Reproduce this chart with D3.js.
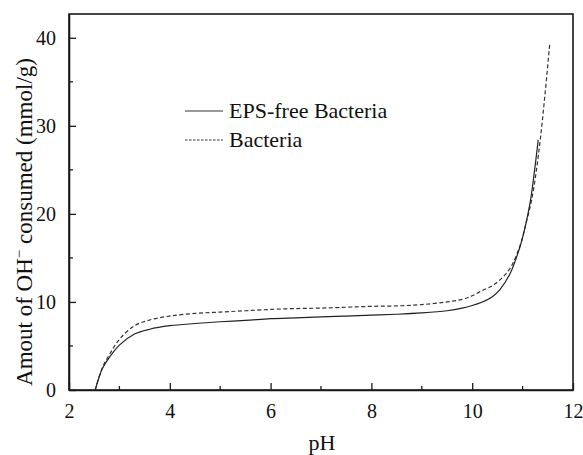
<!DOCTYPE html>
<html>
<head>
<meta charset="utf-8">
<script src="https://cdn.jsdelivr.net/npm/d3@7/dist/d3.min.js"></script>
<style>
  html, body { margin: 0; padding: 0; background: #fff; }
  svg { display: block; }
  svg text { font-family: "Liberation Serif", "Times New Roman", "DejaVu Serif", serif !important; }
</style>
</head>
<body>
<svg id="chart" width="583" height="455"></svg>
<script>
// Titration curves: OH- consumed vs pH
const epsFreePH  = [2.52, 2.66, 2.8, 3.0, 3.3, 3.6, 4.0, 4.5, 5.0, 5.5, 6.0, 6.5, 7.0, 7.5, 8.0, 8.5, 9.0, 9.5, 9.8, 10.0, 10.2, 10.4, 10.55, 10.75, 10.95, 11.05, 11.15, 11.23, 11.31];
const epsFreeOH  = [0, 2.4, 3.7, 5.1, 6.35, 6.9, 7.3, 7.55, 7.75, 7.9, 8.1, 8.2, 8.3, 8.4, 8.5, 8.6, 8.75, 9.0, 9.3, 9.6, 10.0, 10.6, 11.4, 13.2, 16.3, 18.5, 21.3, 24.6, 28.4];
const bacteriaPH = [2.52, 2.66, 2.8, 3.0, 3.3, 3.6, 4.0, 4.5, 5.0, 5.5, 6.0, 6.5, 7.0, 7.5, 8.0, 8.5, 9.0, 9.5, 9.8, 10.0, 10.2, 10.4, 10.55, 10.75, 10.95, 11.08, 11.18, 11.27, 11.35, 11.44, 11.54];
const bacteriaOH = [0, 2.5, 4.0, 5.75, 7.3, 7.95, 8.4, 8.7, 8.85, 9.0, 9.15, 9.25, 9.3, 9.4, 9.5, 9.55, 9.7, 10.0, 10.3, 10.7, 11.3, 11.85, 12.5, 13.8, 16.4, 19.2, 21.6, 24.8, 28.4, 33.3, 39.4];

const xTicks = [2, 4, 6, 8, 10, 12];
const yTicks = [0, 10, 20, 30, 40];
const seriesNames = ["EPS-free Bacteria", "Bacteria"];

const svg = d3.select("#chart");
const margin = { left: 69, top: 14, right: 10, bottom: 65 };
const W = 583, H = 455;
const iw = W - margin.left - margin.right;
const ih = H - margin.top - margin.bottom;

const x = d3.scaleLinear().domain([2, 12]).range([0, iw]);
const y = d3.scaleLinear().domain([0, 42.7]).range([ih, 0]);

const g = svg.append("g").attr("transform", `translate(${margin.left},${margin.top})`);

// frame
g.append("rect")
  .attr("x", 0).attr("y", 0).attr("width", iw).attr("height", ih)
  .attr("fill", "none").attr("stroke", "#1a1a1a").attr("stroke-width", 1.6);

// x axis: inward ticks, minor at odd values
const xAxis = d3.axisBottom(x).tickValues(xTicks).tickSizeInner(-7).tickSizeOuter(0).tickPadding(14)
  .tickFormat(d3.format("d"));
const gx = g.append("g").attr("transform", `translate(0,${ih})`).call(xAxis);
gx.select(".domain").attr("stroke", "#1a1a1a").attr("stroke-width", 1.6);
gx.selectAll(".tick line").attr("stroke", "#1a1a1a").attr("stroke-width", 1.3);
gx.selectAll(".tick text").attr("font-size", 20).attr("fill", "#111");
g.append("g").attr("transform", `translate(0,${ih})`)
  .selectAll("line").data(d3.range(3, 12, 2)).join("line")
  .attr("x1", d => x(d)).attr("x2", d => x(d)).attr("y1", 0).attr("y2", -4)
  .attr("stroke", "#1a1a1a").attr("stroke-width", 1.3);

// y axis
const yAxis = d3.axisLeft(y).tickValues(yTicks).tickSizeInner(-7).tickSizeOuter(0).tickPadding(13)
  .tickFormat(d3.format("d"));
const gy = g.append("g").call(yAxis);
gy.select(".domain").attr("stroke", "#1a1a1a").attr("stroke-width", 1.6);
gy.selectAll(".tick line").attr("stroke", "#1a1a1a").attr("stroke-width", 1.3);
gy.selectAll(".tick text").attr("font-size", 20).attr("fill", "#111");
g.append("g")
  .selectAll("line").data(d3.range(5, 42, 10)).join("line")
  .attr("x1", 0).attr("x2", 4).attr("y1", d => y(d)).attr("y2", d => y(d))
  .attr("stroke", "#1a1a1a").attr("stroke-width", 1.3);

// curves
const line = d3.line().x(d => x(d[0])).y(d => y(d[1])).curve(d3.curveCatmullRom.alpha(0.5));
const epsFree = d3.zip(epsFreePH, epsFreeOH);
const bacteria = d3.zip(bacteriaPH, bacteriaOH);

g.append("path").datum(bacteria).attr("d", line)
  .attr("fill", "none").attr("stroke", "#333").attr("stroke-width", 1.2)
  .attr("stroke-dasharray", "4,2.5");
g.append("path").datum(epsFree).attr("d", line)
  .attr("fill", "none").attr("stroke", "#222").attr("stroke-width", 1.2);

// legend
const legend = svg.append("g");
const legendItems = [
  { name: seriesNames[0], dash: null, y: 111 },
  { name: seriesNames[1], dash: "2.5,1.5", y: 140 }
];
legendItems.forEach(it => {
  legend.append("line").attr("x1", 185).attr("x2", 223).attr("y1", it.y).attr("y2", it.y)
    .attr("stroke", "#333").attr("stroke-width", 1.1)
    .attr("stroke-dasharray", it.dash);
  legend.append("text").attr("x", 229).attr("y", it.y + 6.5)
    .attr("font-size", 22).attr("fill", "#111").text(it.name);
});

// axis titles
svg.append("text").attr("x", 322).attr("y", 450).attr("text-anchor", "middle")
  .attr("font-size", 22).attr("fill", "#111").text("pH");

const yt = svg.append("text")
  .attr("transform", "translate(32,222) rotate(-90)")
  .attr("text-anchor", "middle").attr("font-size", 23).attr("fill", "#111");
yt.append("tspan").text("Amout of OH");
yt.append("tspan").attr("dy", -8).attr("font-size", 15).text("\u2212");
yt.append("tspan").attr("dy", 8).text(" consumed (mmol/g)");
</script>
</body>
</html>
